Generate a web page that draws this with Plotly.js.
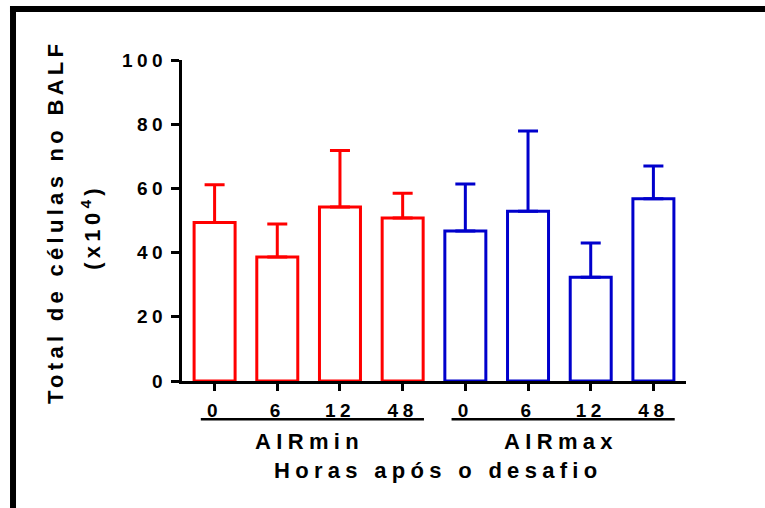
<!DOCTYPE html>
<html>
<head>
<meta charset="utf-8">
<script src="https://cdn.plot.ly/plotly-3.0.1.min.js"></script>
<style>
  html, body { margin: 0; padding: 0; background: #fff; }
  #chart { width: 765px; height: 508px; }
  /* widely tracked lettering, Prism style */
  #chart .xtick text, #chart .ytick text { letter-spacing: 4.5px; }
  #chart .annotation-text { letter-spacing: 5.3px; }
  #chart .annotation[data-index="3"] .annotation-text,
  #chart .annotation[data-index="4"] .annotation-text { letter-spacing: 4.3px; }
</style>
</head>
<body>
<div id="chart"></div>
<script>
// Total BALF cells (x10^4), mean + SEM, by hours after challenge
const hours = ['0', '6', '12', '48'];
const groups = ['AIRmin', 'AIRmax'];
const airMinMean = [49.4, 38.6, 54.2, 50.8];
const airMinSem = [11.7, 10.3, 17.6, 7.7];
const airMaxMean = [46.7, 52.9, 32.3, 56.8];
const airMaxSem = [14.7, 25.0, 10.7, 10.2];
const yTicks = [0, 20, 40, 60, 80, 100];

const FONT = 'Liberation Sans, Arial, sans-serif';
const RED = '#FF0000';
const BLUE = '#0000CC';

const minX = hours.map((h, i) => i);
const maxX = hours.map((h, i) => i + hours.length);

function barTrace(name, xs, ys, err, color) {
  return {
    type: 'bar',
    name: name,
    x: xs,
    y: ys,
    width: 0.654,
    marker: { color: '#ffffff', line: { color: color, width: 3 } },
    error_y: {
      type: 'data',
      symmetric: false,
      array: err,
      arrayminus: err.map(() => 0),
      color: color,
      thickness: 3,
      width: 10
    },
    hoverinfo: 'skip'
  };
}

const data = [
  barTrace(groups[0], minX, airMinMean, airMinSem, RED),
  barTrace(groups[1], maxX, airMaxMean, airMaxSem, BLUE)
];

const allX = minX.concat(maxX);
const allLabels = hours.concat(hours);

const tickFont = { family: FONT, size: 19, color: '#000', weight: 'bold' };
const labelFont = { family: FONT, size: 22, color: '#000', weight: 'bold' };

// brackets under each group's tick labels
const groupLine = (xs) => ({
  type: 'line', xref: 'x', yref: 'paper',
  x0: xs[0] - 0.22, x1: xs[xs.length - 1] + 0.34,
  y0: -0.119, y1: -0.119,
  line: { color: '#000', width: 2.5 }
});

const layout = {
  width: 765,
  height: 508,
  margin: { l: 182, r: 79, t: 60, b: 127 },
  paper_bgcolor: '#fff',
  plot_bgcolor: '#fff',
  showlegend: false,
  bargap: 0,
  xaxis: {
    range: [-0.52, 7.52],
    tickmode: 'array',
    tickvals: allX,
    ticktext: allLabels,
    ticks: 'outside',
    ticklen: 7,
    tickwidth: 3,
    tickcolor: '#000',
    ticklabelstandoff: 3,
    showline: true,
    linewidth: 3,
    linecolor: '#000',
    showgrid: false,
    zeroline: false,
    tickfont: tickFont,
    fixedrange: true
  },
  yaxis: {
    range: [0, 100],
    tickmode: 'array',
    tickvals: yTicks,
    ticktext: yTicks.map(String),
    ticks: 'outside',
    ticklen: 8,
    tickwidth: 3,
    tickcolor: '#000',
    showline: true,
    linewidth: 3,
    linecolor: '#000',
    showgrid: false,
    zeroline: false,
    tickfont: tickFont,
    fixedrange: true
  },
  shapes: [
    groupLine(minX),
    groupLine(maxX),
    // frame on the top and left edges
    { type: 'line', xref: 'paper', yref: 'paper', x0: -0.3413, x1: 1.3, y0: 1.1589, y1: 1.1589,
      line: { color: '#000', width: 6 } },
    { type: 'line', xref: 'paper', yref: 'paper', x0: -0.3353, x1: -0.3353, y0: 1.168, y1: -0.5,
      line: { color: '#000', width: 6 } }
  ],
  annotations: [
    { text: groups[0], xref: 'x', yref: 'paper', x: 1.5, y: -0.19, xshift: 1,
      showarrow: false, font: labelFont, xanchor: 'center', yanchor: 'middle' },
    { text: groups[1], xref: 'x', yref: 'paper', x: 5.5, y: -0.19, xshift: 2,
      showarrow: false, font: labelFont, xanchor: 'center', yanchor: 'middle' },
    { text: 'Horas após o desafio', xref: 'x', yref: 'paper', x: 3.5, y: -0.279, xshift: 4,
      showarrow: false, font: labelFont, xanchor: 'center', yanchor: 'middle' },
    { text: 'Total de células no BALF', xref: 'paper', yref: 'paper', x: -0.252, y: 0.497,
      textangle: -90, showarrow: false, font: labelFont, xanchor: 'center', yanchor: 'middle' },
    { text: '(x10<sup>4</sup>)', xref: 'paper', yref: 'paper', x: -0.1806, y: 0.48,
      textangle: -90, showarrow: false, font: labelFont, xanchor: 'center', yanchor: 'middle' }
  ]
};

Plotly.newPlot('chart', data, layout, { displayModeBar: false, staticPlot: true });
</script>
</body>
</html>
